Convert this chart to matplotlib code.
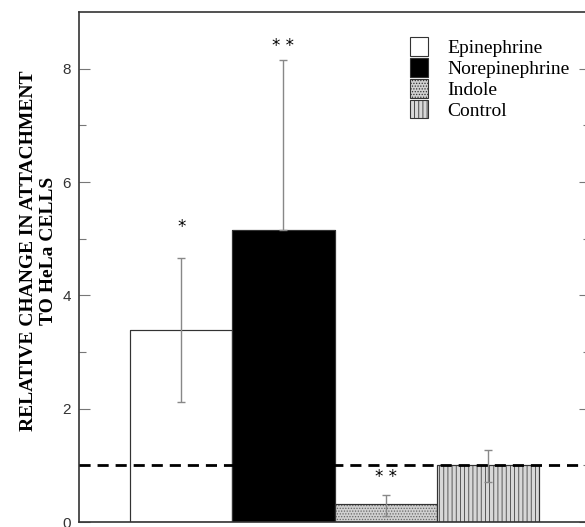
import matplotlib
matplotlib.use("Agg")
import matplotlib.pyplot as plt
from matplotlib.patches import Patch

categories = ["Epinephrine", "Norepinephrine", "Indole", "Control"]
values = [3.38, 5.15, 0.32, 1.0]
err_low = [1.26, 0.0, 0.22, 0.30]
err_high = [1.28, 3.0, 0.16, 0.27]
stars = ["*", "* *", "* *", ""]
star_y = [5.2, 8.4, 0.8, 0]
baseline = 1.0

facecolors = ["white", "black", "#d0d0d0", "#d8d8d8"]
hatches = [None, None, "......", "||||"]
hatch_colors = ["#555555", "black", "#666666", "#444444"]

plt.rcParams["hatch.linewidth"] = 0.6
fig = plt.figure(figsize=(5.85, 5.27), dpi=100)
ax = fig.add_axes([79/585, 1-522/527, 511/585, 510/527])

x = list(range(len(categories)))
for i in x:
    ax.bar(i, values[i], width=1.0, color=facecolors[i], edgecolor=hatch_colors[i],
           hatch=hatches[i], linewidth=0.8, zorder=2)
    ax.bar(i, values[i], width=1.0, color="none", edgecolor="#333333", linewidth=0.8, zorder=3)
ax.errorbar(x, values, yerr=[err_low, err_high], fmt="none", ecolor="#888888",
            elinewidth=1.0, capsize=3, capthick=1.0, zorder=4)
for i in x:
    if stars[i]:
        ax.text(i, star_y[i], stars[i], ha="center", va="center", fontsize=12,
                family="DejaVu Sans", zorder=5)

ax.axhline(baseline, color="black", linestyle=(0, (4, 2.5)), linewidth=2, zorder=6)

ax.set_xlim(-1, 4)
ax.set_ylim(0, 9)
ax.set_yticks([0, 2, 4, 6, 8])
ax.set_yticks([1, 3, 5, 7], minor=True)
ax.tick_params(axis="y", which="major", direction="in", length=8, width=0.8,
               labelsize=11, labelcolor="#333333", colors="#777777", right=True, pad=6)
ax.tick_params(axis="y", which="minor", direction="in", length=5, width=0.8,
               colors="#777777", right=True)
for lbl in ax.get_yticklabels():
    lbl.set_family("Liberation Sans")
    lbl.set_color("#333333")
ax.set_xticks([])
for s in ax.spines.values():
    s.set_color("#333333")
    s.set_linewidth(1.2)

ax.set_ylabel("RELATIVE CHANGE IN ATTACHMENT\nTO HeLa CELLS", family="Liberation Serif",
              fontweight="bold", fontsize=14, linespacing=1.2, labelpad=4)
ax.yaxis.label.set_y(0.532)

handles = [Patch(facecolor=facecolors[i], edgecolor="#333333", hatch=hatches[i], linewidth=0.8)
           for i in x]
ax.legend(handles, categories, loc="upper left", bbox_to_anchor=(0.648, 0.95),
          frameon=False, prop={"family": "Liberation Serif", "size": 14},
          handlelength=0.9, handleheight=1.1, handletextpad=1.0, labelspacing=0.04,
          borderpad=0, borderaxespad=0)

fig.savefig("out.png", dpi=100)
